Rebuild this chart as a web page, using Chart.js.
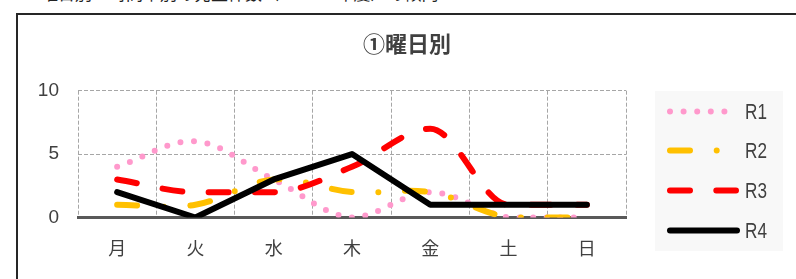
<!DOCTYPE html>
<html>
<head>
<meta charset="utf-8">
<script src="https://cdn.jsdelivr.net/npm/chart.js@4.4.1/dist/chart.umd.min.js"></script>
<style>
  html, body { margin: 0; padding: 0; background: #fff; }
  #wrap { position: relative; width: 796px; height: 279px; overflow: hidden; }
  #frame { position: absolute; left: 16px; top: 13px; width: 800px; height: 264px;
           border-left: 2px solid #262626; border-top: 2px solid #262626; border-bottom: 1px solid #e6e6e6; }
  #toptext { position: absolute; left: 24px; top: -20px; font: 17px 'Noto Sans CJK JP', sans-serif; color: #222; white-space: nowrap; }
  canvas { position: absolute; left: 0; top: 0; }
</style>
</head>
<body>
<div id="wrap">
  <div id="toptext">・曜日別・時間帯別の発生件数（R1～R4年度）の傾向</div>
  <div id="frame"></div>
  <canvas id="c" width="796" height="279"></canvas>
</div>
<script>
const titleText = '①曜日別';
const categories = ['月', '火', '水', '木', '金', '土', '日'];
const seriesNames = ['R1', 'R2', 'R3', 'R4'];
const r1 = [4, 6, 3, 0, 2, 0, 0];
const r2 = [1, 1, 3, 2, 2, 0, 0];
const r3 = [3, 2, 2, 4, 7, 1, 1];
const r4 = [2, 0, 3, 5, 1, 1, 1];
const yMin = 0, yMax = 10, yStep = 5;

const styles = [
  { color: '#ff99cc', dash: [0, 13.6], tension: 0.35, mode: 'default', legendLen: 55 },
  { color: '#ffc000', dash: [20, 26.7, 0, 26.7], tension: 0.35, mode: 'default', legendLen: 47 },
  { color: '#ff0000', dash: [20, 26.3], tension: 0.35, mode: 'monotone', legendLen: 66 },
  { color: '#000000', dash: [], tension: 0, mode: 'default', legendLen: 67 }
];
const values = [r1, r2, r3, r4];

const datasets = values.map((v, i) => ({
  label: seriesNames[i],
  data: v,
  borderColor: styles[i].color,
  backgroundColor: styles[i].color,
  borderWidth: 6,
  borderDash: styles[i].dash,
  borderCapStyle: 'round',
  borderJoinStyle: 'round',
  tension: styles[i].tension,
  cubicInterpolationMode: styles[i].mode,
  pointRadius: 0,
  pointHoverRadius: 0,
  fill: false,
  order: 4 - i
}));

const legendPlugin = {
  id: 'customLegend',
  afterDraw(chart) {
    const ctx = chart.ctx;
    ctx.save();
    ctx.fillStyle = '#f8f8f8';
    ctx.fillRect(655, 91, 128, 160);
    const ys = [111.5, 150.5, 190.5, 230.5];
    chart.data.datasets.forEach((ds, i) => {
      const y = ys[i];
      ctx.save();
      ctx.strokeStyle = ds.borderColor;
      ctx.lineWidth = 6;
      ctx.lineCap = 'round';
      ctx.setLineDash(ds.borderDash || []);
      ctx.beginPath();
      ctx.moveTo(670, y);
      ctx.lineTo(670 + styles[i].legendLen, y);
      ctx.stroke();
      ctx.restore();
      ctx.save();
      ctx.fillStyle = '#404040';
      ctx.textBaseline = 'middle';
      ctx.font = '22px "Liberation Sans", Arial, sans-serif';
      ctx.translate(745, y + 1);
      ctx.scale(0.78, 1);
      ctx.fillText(ds.label, 0, 0);
      ctx.restore();
    });
    ctx.restore();
  }
};

new Chart(document.getElementById('c'), {
  type: 'line',
  data: { labels: categories, datasets },
  plugins: [legendPlugin],
  options: {
    responsive: false,
    devicePixelRatio: 1,
    animation: false,
    layout: { padding: { left: 18, right: 0, top: 0, bottom: 0 } },
    plugins: {
      legend: { display: false },
      tooltip: { enabled: false },
      title: {
        display: true,
        text: titleText,
        color: '#404040',
        font: { family: "'Noto Sans CJK JP', sans-serif", size: 22, weight: 'bold', lineHeight: 1.2 },
        padding: { top: 30, bottom: 34.3 }
      }
    },
    scales: {
      x: {
        offset: true,
        grid: { display: true, offset: true, color: '#a6a6a6', lineWidth: 1, drawTicks: false },
        border: { display: true, color: '#595959', width: 3, dash: [4, 2] },
        ticks: { color: '#404040', padding: 20, font: { family: "'Noto Sans CJK JP', sans-serif", size: 18, lineHeight: 1.2 } },
        afterFit(scale) { scale.height = 61.5; }
      },
      y: {
        min: yMin, max: yMax,
        ticks: { stepSize: yStep, color: '#404040', padding: 19, font: { family: "'Liberation Sans', Arial, sans-serif", size: 19, lineHeight: 1.2 } },
        grid: { color: '#a6a6a6', lineWidth: 1, drawTicks: false },
        border: { display: false, dash: [4, 2] },
        afterFit(scale) { scale.width = 60; }
      },
      y2: {
        position: 'right',
        display: true,
        ticks: { display: false },
        grid: { display: false, drawTicks: false },
        border: { display: false },
        afterFit(scale) { scale.width = 170; }
      }
    }
  }
});
</script>
</body>
</html>
